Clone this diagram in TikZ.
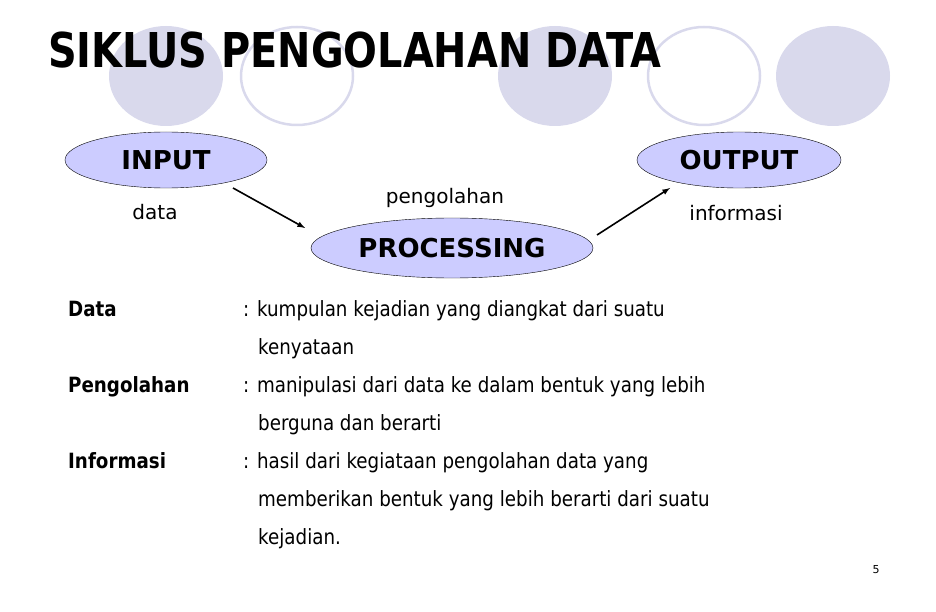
\documentclass[tikz,border=0pt]{standalone}
\usepackage{fontspec}
\setmainfont{DejaVu Sans}
\newfontfamily\titlefont{DejaVu Sans}[FakeStretch=0.83]
\newfontfamily\bodyfont{DejaVu Sans}[FakeStretch=0.87]
\usepackage{tikz}
\usetikzlibrary{shapes.geometric, arrows, positioning, calc}
\definecolor{bgcircle}{RGB}{217,217,236}
\definecolor{stagefill}{RGB}{204,204,255}

\begin{document}
\begin{tikzpicture}[x=1pt, y=-1pt,
  stage/.style={draw, ellipse, thin, fill=stagefill, inner sep=0pt,
    font=\fontsize{26}{30}\selectfont\bfseries},
  note/.style={font=\fontsize{20}{24}\selectfont, inner sep=0pt},
  term/.style={anchor=base west, inner sep=0pt, font=\bodyfont\fontsize{21}{25}\selectfont\bfseries},
  defn/.style={anchor=base west, inner sep=0pt, font=\bodyfont\fontsize{21}{25}\selectfont},
  flow/.style={-latex, line width=1.6pt}]
\useasboundingbox (0,0) rectangle (936,612);

% Background circles
\fill[bgcircle] (166,76) ellipse [x radius=57pt, y radius=50pt];
\draw[bgcircle, line width=2.5pt] (297,76) ellipse [x radius=56pt, y radius=49pt];
\fill[bgcircle] (555,76) ellipse [x radius=57pt, y radius=50pt];
\draw[bgcircle, line width=2.5pt] (704,76) ellipse [x radius=56pt, y radius=49pt];
\fill[bgcircle] (833,76) ellipse [x radius=57pt, y radius=50pt];

% Title
\node[anchor=base west, inner sep=0pt, font=\titlefont\fontsize{48}{56}\selectfont\bfseries] (title) at (48,68) {SIKLUS PENGOLAHAN DATA};

% Cycle stages
\node[stage, minimum width=202pt, minimum height=56pt] (input) at (166,160) {INPUT};
\node[stage, minimum width=204pt, minimum height=56pt] (output) at (739,160) {OUTPUT};
\node[stage, minimum width=282pt, minimum height=60pt] (proc) at (452,248) {PROCESSING};

% Labels
\node[note] (data) at (155,212) {data};
\node[note] (pengolahan) at (445,198) {pengolahan};
\node[note] (informasi) at (736,213) {informasi};

% Arrows
\coordinate (a1s) at (233,188);
\coordinate (a1e) at (305,228);
\coordinate (a2s) at (597,235);
\coordinate (a2e) at (670,188);
\draw[flow] (a1s) -- (a1e);
\draw[flow] (a2s) -- (a2e);

% Definitions
\node[term] (tdata) at (68,316) {Data};
\node[defn] (ddata) at (243,316) {: kumpulan kejadian yang diangkat dari suatu};
\node[defn] (ddata2) at (258,354) {kenyataan};
\node[term] (tproc) at (68,392) {Pengolahan};
\node[defn] (dproc) at (243,392) {: manipulasi dari data ke dalam bentuk yang lebih};
\node[defn] (dproc2) at (258,430) {berguna dan berarti};
\node[term] (tinfo) at (68,468) {Informasi};
\node[defn] (dinfo) at (243,468) {: hasil dari kegiataan pengolahan data yang};
\node[defn] (dinfo2) at (258,506) {memberikan bentuk yang lebih berarti dari suatu};
\node[defn] (dinfo3) at (258,544) {kejadian.};

% Page number
\node[font=\fontsize{11}{13}\selectfont, inner sep=0pt] (page) at (876,570) {5};
\end{tikzpicture}
\end{document}
